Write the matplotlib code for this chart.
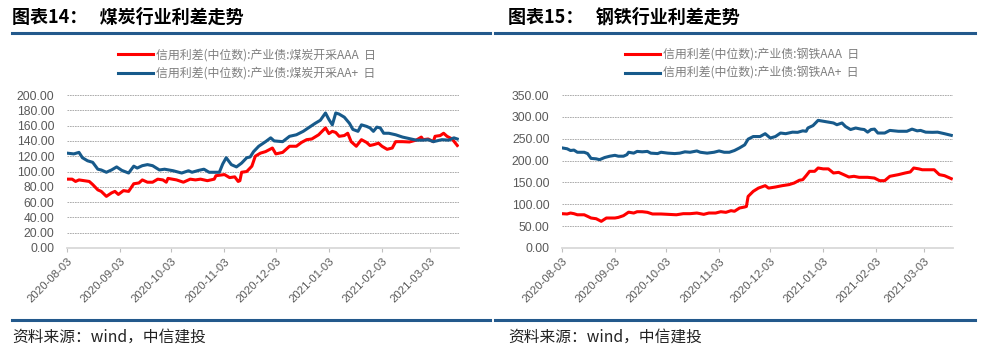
import pandas as pd
import matplotlib
matplotlib.use('Agg')
import matplotlib.pyplot as plt
from matplotlib.lines import Line2D

plt.rcParams['font.family'] = ['Liberation Sans', 'Noto Sans CJK SC', 'DejaVu Sans']
CJK = ['Noto Sans CJK SC', 'DejaVu Sans']

# 起始日期，数据横坐标为距起始日的天数
start = pd.Timestamp('2020-08-03')
tick_labels = ['2020-08-03', '2020-09-03', '2020-10-03', '2020-11-03',
               '2020-12-03', '2021-01-03', '2021-02-03', '2021-03-03']

# 煤炭开采 AAA
coal_aaa_days = [0, 3, 5, 7, 10, 13, 15, 18, 20, 23, 26, 28, 30, 33, 36, 39, 42, 44, 47, 50,
                 53, 56, 58, 59, 64, 68, 72, 75, 78, 82, 86, 87, 92, 95, 98, 100, 101, 102,
                 105, 107, 108, 110, 113, 116, 120, 122, 126, 130, 134, 137, 140, 143, 147,
                 151, 153, 155, 157, 159, 162, 164, 166, 169, 172, 175, 177, 179, 182, 184,
                 187, 190, 192, 196, 200, 204, 207, 208, 211, 214, 215, 218, 220, 222, 225, 228]
coal_aaa = [90, 90, 87, 89, 88, 87, 83, 76, 74, 67.5, 72, 74, 70, 75, 74, 84, 85, 89, 86, 86,
            90, 89, 86, 91, 89, 86, 90, 89, 90, 88, 90, 94.5, 96, 92, 93, 87, 88, 99,
            100, 104.6, 107, 120, 124, 126, 130.7, 123, 125, 133, 133, 138, 141.6, 142.5, 148,
            157, 149.6, 152.5, 151, 146, 147, 150, 139, 133, 141.6, 138, 134, 135, 137, 133,
            129, 130.7, 139, 139, 138.6, 141, 145, 141.6, 142.5, 139, 146, 147, 150, 146, 142.5, 134]

# 煤炭开采 AA+
coal_aap_days = [0, 4, 7, 9, 12, 15, 18, 20, 23, 26, 29, 32, 36, 39, 41, 44, 47, 50, 54, 57,
                 62, 67, 71, 73, 77, 80, 83, 87, 89, 91, 93, 96, 99, 102, 105, 107, 109, 112,
                 116, 119, 121, 126, 130, 134, 138, 141, 145, 148, 151, 153, 155, 157, 159,
                 162, 165, 167, 170, 172, 175, 177, 179, 181, 183, 185, 188, 192, 196, 200,
                 204, 208, 211, 214, 219, 223, 226, 228]
coal_aap = [124, 123, 125, 118, 114, 112, 103, 102, 99, 102, 106, 101.5, 98, 107, 104.5, 107.6,
            109, 107.6, 102, 103, 101, 98, 101, 99, 101.5, 103, 99, 99, 99, 110, 118, 109,
            106, 111, 118, 119, 126, 133, 139, 144, 140, 139, 146, 148, 152.5, 157, 163, 167,
            176.5, 168, 161, 176.5, 175, 171, 163, 155, 152.5, 161, 159, 157, 152.5, 158, 157,
            150, 150, 148, 145, 143, 141, 141, 141.6, 139, 141.6, 141, 144, 142.5]

# 钢铁 AAA
steel_aaa_days = [0, 3, 5, 7, 9, 13, 15, 17, 20, 23, 26, 29, 31, 33, 36, 39, 42, 44, 47, 50,
                  53, 58, 62, 67, 71, 75, 79, 83, 86, 90, 93, 96, 99, 101, 104, 107, 108, 109,
                  112, 115, 119, 121, 125, 129, 133, 136, 139, 141, 143, 145, 148, 150, 153,
                  156, 159, 162, 165, 168, 171, 174, 179, 183, 186, 189, 192, 197, 201, 204,
                  206, 209, 211, 218, 221, 224, 228]
steel_aaa = [78.5, 77.8, 80, 78.5, 76, 76, 72.4, 68.6, 67, 61, 68.6, 68.6, 68.6, 70, 74, 82, 80,
             83, 83, 81.6, 77.8, 77.8, 77, 76, 78.5, 78.5, 80, 77, 80, 80, 83, 81.6, 85.4, 84,
             91.5, 93.8, 95, 118, 129.6, 137, 142.6, 137, 139.5, 142.6, 145, 148.7, 155, 156.3,
             165.5, 175.4, 175.4, 183, 181, 181, 171.6, 173, 167.8, 162.4, 164, 161.7, 161.7,
             160, 154, 154, 164, 167.8, 171.6, 174, 183, 181, 179, 179, 167.8, 165.5, 158.6]

# 钢铁 AA+
steel_aap_days = [0, 3, 5, 7, 9, 13, 15, 17, 20, 22, 25, 28, 31, 33, 36, 38, 39, 42, 44, 47,
                  50, 52, 56, 58, 62, 66, 69, 72, 75, 79, 81, 85, 89, 92, 95, 98, 101, 104,
                  107, 109, 112, 116, 119, 122, 125, 128, 131, 135, 138, 141, 143, 144, 147,
                  150, 153, 156, 159, 161, 164, 166, 169, 172, 175, 177, 179, 181, 183, 185,
                  189, 192, 197, 202, 205, 208, 210, 213, 217, 220, 224, 228]
steel_aap = [229, 227, 223, 224, 219, 219, 216, 205, 204, 202, 207, 210, 212, 210, 210, 213.5,
             219, 217, 221, 220, 221, 217, 216, 219, 217, 216, 217, 220, 219, 222, 219, 217,
             219, 222, 219, 219, 223, 229, 236, 249, 255, 255, 261.5, 251.6, 255, 263, 261.5,
             265, 264.6, 268, 267, 274.5, 280, 292, 290, 288, 286, 282, 286, 278, 271, 274.5,
             272, 271, 265, 271, 272, 263, 263, 269, 267, 267, 272, 268, 269, 265, 264.6, 265,
             261.5, 257.7]

red = '#ff0000'
blue = '#175a8b'
rule_blue = '#23598c'
gray_text = '#595959'

W, H = 982, 349
fig = plt.figure(figsize=(W / 100, H / 100), dpi=100)


def to_dates(days):
    return start + pd.to_timedelta(days, unit='D')


def draw_panel(rule_x0, rule_x1, text_x, ax_x0, ax_w, title, series, ymax, ystep, legend_x):
    # 标题、来源与上下分隔线
    fig.text(text_x / W, 1 - 17 / H, title, fontsize=13, fontweight='bold',
             va='center', ha='left', family=CJK)
    for y in (33, 320):
        fig.add_artist(Line2D([rule_x0 / W, rule_x1 / W], [1 - y / H] * 2,
                              color=rule_blue, lw=2.2))
    fig.text(text_x / W, 1 - 337 / H, '资料来源：wind，中信建投', fontsize=11.3,
             style='italic', va='center', ha='left', color='#222222', family=CJK)

    ax = fig.add_axes([ax_x0 / W, 1 - 248 / H, ax_w / W, 153 / H])
    lines = []
    for days, vals, color, label in series:
        ln, = ax.plot(to_dates(days), vals, color=color, lw=2.2, label=label,
                      solid_joinstyle='round')
        lines.append(ln)

    ax.set_ylim(0, ymax)
    ax.set_yticks([i * ystep for i in range(int(ymax / ystep) + 1)])
    ax.yaxis.set_major_formatter(plt.FuncFormatter(lambda v, p: f'{v:.2f}'))
    ax.set_xlim(start, start + pd.Timedelta(days=229))
    ax.set_xticks(pd.to_datetime(tick_labels))
    ax.set_xticklabels(tick_labels, rotation=45, ha='right', rotation_mode='anchor')
    ax.tick_params(axis='y', length=0, pad=9, labelsize=8.7, labelcolor=gray_text)
    ax.tick_params(axis='x', length=3, width=0.8, color='#bfbfbf', pad=3,
                   labelsize=8.2, labelcolor=gray_text)
    for side in ['top', 'right', 'left']:
        ax.spines[side].set_visible(False)
    ax.spines['bottom'].set_color('#d9d9d9')
    ax.spines['bottom'].set_linewidth(1.3)
    ax.grid(axis='y', color='#a0a0a0', lw=0.6, linestyle=(0, (2, 1)))
    ax.set_axisbelow(True)

    leg = fig.legend(handles=lines, loc='center', bbox_to_anchor=(legend_x / W, 1 - 64 / H),
                     ncol=1, frameon=False, handlelength=3.0,
                     handletextpad=0.25, labelspacing=0.45,
                     prop={'family': CJK, 'size': 8.6})
    for t in leg.get_texts():
        t.set_color('#7f7f7f')
    return ax


draw_panel(12, 490, 12, 67, 392, '图表14：   煤炭行业利差走势',
           [(coal_aaa_days, coal_aaa, red, '信用利差(中位数):产业债:煤炭开采AAA  日'),
            (coal_aap_days, coal_aap, blue, '信用利差(中位数):产业债:煤炭开采AA+  日')],
           200, 20, 247)
draw_panel(495, 975, 508, 562, 391, '图表15：   钢铁行业利差走势',
           [(steel_aaa_days, steel_aaa, red, '信用利差(中位数):产业债:钢铁AAA  日'),
            (steel_aap_days, steel_aap, blue, '信用利差(中位数):产业债:钢铁AA+  日')],
           350, 50, 742)

fig.savefig('out.png', dpi=100)
